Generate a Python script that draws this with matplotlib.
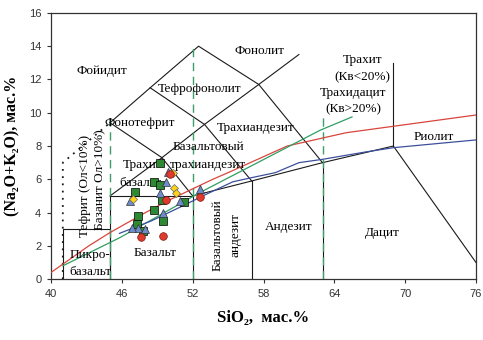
import matplotlib
matplotlib.use("Agg")
import matplotlib.pyplot as plt

# TAS diagram (Le Bas et al.) with sample points

# field boundaries (SiO2, Na2O+K2O)
picro_x = [41, 41, 45, 45]
picro_y = [0, 3, 3, 0]
basalt_top_x = [45, 45, 52, 52]
basalt_top_y = [0, 5, 5, 0]
andes_x = [52, 57, 63, 69, 77]
andes_y = [5, 5.9, 7, 8, 0]
v57_x = [57, 57]
v57_y = [0, 5.9]
v63_x = [63, 63]
v63_y = [0, 7]
tb_x = [45, 49.4, 52]
tb_y = [5, 7.3, 5]
bta_x = [49.4, 53, 57.6, 61]
bta_y = [7.3, 9.3, 11.7, 13.5]
pt_x = [48.4, 53, 57]
pt_y = [11.5, 9.3, 5.9]
tp_x = [45, 48.4, 52.5, 57.6, 63]
tp_y = [9.4, 11.5, 14, 11.7, 7]
pht_x = [45, 49.4]
pht_y = [9.4, 7.3]
trachyte_x = [69, 69]
trachyte_y = [8, 13]
dot_x = [41, 41, 45]
dot_y = [0, 7, 9.4]

# dashed SiO2 dividers
div_x = [45, 52, 63]
div_top = [10, 14, 10]

# alkaline / subalkaline curves
irvine_x = [39.2, 40, 43.2, 45, 48, 50, 53.7, 55, 60, 65, 77.4]
irvine_y = [0, 0.4, 2, 2.8, 4, 4.75, 6, 6.4, 8, 8.8, 10]
mk_x = [41, 45.85, 52.6, 62.8, 65.5]
mk_y = [0.8, 2.5, 5.2, 8.95, 9.75]
blue_x = [45.8, 48.5, 51, 53, 55.4, 57, 59, 61, 63, 66.7, 69, 76.5]
blue_y = [2.75, 3.5, 4.35, 5.05, 5.85, 6.1, 6.4, 7.0, 7.2, 7.65, 7.9, 8.4]

# samples
sq_x = [49.2, 48.7, 49.2, 47.1, 49.4, 51.3, 48.7, 47.4, 49.5, 47.3, 47.8]
sq_y = [7.0, 5.86, 5.66, 5.22, 4.76, 4.62, 4.16, 3.8, 3.5, 3.3, 2.9]
tri_x = [49.9, 49.75, 49.2, 46.65, 50.9, 52.6, 49.5, 47.4, 46.9, 48.0]
tri_y = [6.45, 5.86, 5.2, 4.72, 4.72, 5.4, 3.96, 3.05, 3.1, 3.03]
dia_x = [50.35, 50.4, 50.6, 46.95]
dia_y = [6.4, 5.46, 5.16, 4.8]
circ_x = [50.05, 49.75, 52.6, 49.45, 47.6]
circ_y = [6.33, 4.76, 4.96, 2.59, 2.51]

x_ticks = [40, 46, 52, 58, 64, 70, 76]
y_ticks = [0, 2, 4, 6, 8, 10, 12, 14, 16]

serif = ['Liberation Serif', 'DejaVu Serif']
sans = ['Liberation Sans', 'DejaVu Sans']

fig = plt.figure(figsize=(4.83, 3.40), dpi=100)
ax = fig.add_axes([0.1056, 0.179, 0.8799, 0.783])
ax.set_xlim(40, 76)
ax.set_ylim(0, 16)

lc = '#1a1a1a'
lw = 0.8
for xs, ys in [(picro_x, picro_y), (basalt_top_x, basalt_top_y), (andes_x, andes_y),
               (v57_x, v57_y), (v63_x, v63_y), (tb_x, tb_y), (bta_x, bta_y),
               (pt_x, pt_y), (tp_x, tp_y), (pht_x, pht_y), (trachyte_x, trachyte_y)]:
    ax.plot(xs, ys, color=lc, lw=lw, zorder=2)
ax.plot(dot_x, dot_y, color=lc, lw=1.3, ls=(0, (1, 3)), zorder=2)

for xv, top in zip(div_x, div_top):
    ax.plot([xv, xv], [0, top], color='#3f9e6a', lw=1.0, ls=(0, (6, 4)), zorder=2)

ax.plot(irvine_x, irvine_y, color='#d9453d', lw=0.9, zorder=3)
ax.plot(mk_x, mk_y, color='#2f9e63', lw=0.9, zorder=3)
ax.plot(blue_x, blue_y, color='#3c4f9c', lw=0.9, zorder=3)

ms = 5.5
ax.plot(sq_x, sq_y, 's', ms=ms, mfc='#2e8a32', mec='black', mew=0.5, zorder=5)
ax.plot(tri_x, tri_y, '^', ms=ms, mfc='#6e8ccc', mec='#333333', mew=0.5, zorder=5)
ax.plot(dia_x, dia_y, 'D', ms=4.2, mfc='#ffd21a', mec='#666666', mew=0.5, zorder=5)
ax.plot(circ_x, circ_y, 'o', ms=ms, mfc='#e03a2f', mec='#7a1a10', mew=0.5, zorder=5)

fs = 9.5
def lab(x, y, s, **kw):
    kw.setdefault('ha', 'center')
    ax.text(x, y, s, family=serif, fontsize=fs, va='center', zorder=4, **kw)

lab(44.3, 12.5, 'Фойидит')
lab(52.6, 11.4, 'Тефрофонолит')
lab(57.7, 13.7, 'Фонолит')
lab(47.5, 9.4, 'Фонотефрит')
lab(57.3, 9.1, 'Трахиандезит')
lab(53.3, 7.95, 'Базальтовый')
lab(53.3, 6.87, 'трахиандезит')
lab(66.4, 13.2, 'Трахит')
lab(66.35, 12.15, '(Кв<20%)')
lab(65.6, 11.2, 'Трахидацит')
lab(65.6, 10.2, '(Кв>20%)')
lab(72.4, 8.55, 'Риолит')
lab(46.1, 6.87, 'Трахи', ha='left')
lab(45.8, 5.78, 'базальт', ha='left')
lab(48.8, 1.57, 'Базальт')
lab(60.1, 3.15, 'Андезит')
lab(68.1, 2.75, 'Дацит')
lab(43.3, 1.45, 'Пикро-')
lab(43.3, 0.42, 'базальт')
lab(54.1, 2.65, 'Базальтовый', rotation=90)
lab(55.6, 2.65, 'андезит', rotation=90)
lab(42.9, 5.63, 'Тефрит (Ол<10%)', rotation=90)
lab(44.15, 6.0, 'Базанит Ол>10%)', rotation=90)

ax.set_xticks(x_ticks)
ax.set_yticks(y_ticks)
ax.tick_params(direction='out', length=3, width=0.8, colors='#333333', labelsize=8, pad=4)
for t in ax.get_xticklabels() + ax.get_yticklabels():
    t.set_family(sans)
for sp in ax.spines.values():
    sp.set_color('#333333')
    sp.set_linewidth(0.9)

ax.set_xlabel('SiO₂,  мас.%', family=serif, fontsize=12, fontweight='bold', labelpad=8)
ax.set_ylabel('(Na₂O+K₂O), мас.%', family=serif, fontsize=11.5, fontweight='bold', labelpad=6)

fig.savefig('out.png', dpi=100)
